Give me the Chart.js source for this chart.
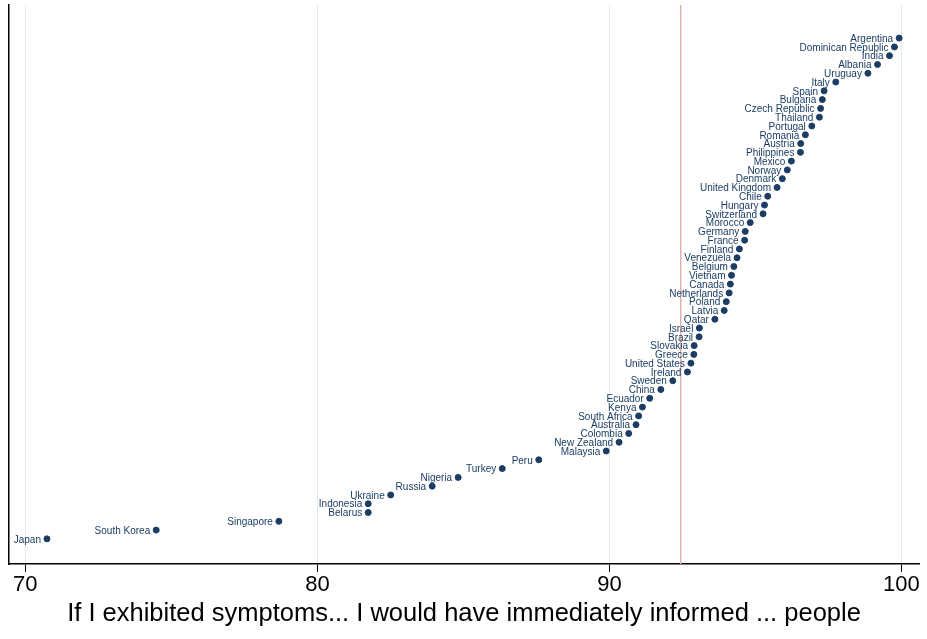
<!DOCTYPE html>
<html>
<head>
<meta charset="utf-8">
<script src="https://cdn.jsdelivr.net/npm/chart.js@4/dist/chart.umd.min.js"></script>
<style>
  body { margin: 0; background: #fff; }
</style>
</head>
<body>
<canvas id="c" width="927" height="639"></canvas>
<script>
const countries = ["Argentina", "Dominican Republic", "India", "Albania", "Uruguay", "Italy", "Spain", "Bulgaria",
  "Czech Republic", "Thailand", "Portugal", "Romania", "Austria", "Philippines", "Mexico", "Norway", "Denmark",
  "United Kingdom", "Chile", "Hungary", "Switzerland", "Morocco", "Germany", "France", "Finland", "Venezuela",
  "Belgium", "Vietnam", "Canada", "Netherlands", "Poland", "Latvia", "Qatar", "Israel", "Brazil", "Slovakia",
  "Greece", "United States", "Ireland", "Sweden", "China", "Ecuador", "Kenya", "South Africa", "Australia",
  "Colombia", "New Zealand", "Malaysia", "Peru", "Turkey", "Nigeria", "Russia", "Ukraine", "Indonesia",
  "Belarus", "Singapore", "South Korea", "Japan"];
const scores = [99.92, 99.76, 99.59, 99.18, 98.85, 97.75, 97.35, 97.29,
  97.23, 97.19, 96.93, 96.71, 96.55, 96.54, 96.23, 96.09, 95.92,
  95.74, 95.42, 95.31, 95.26, 94.82, 94.65, 94.63, 94.45, 94.37,
  94.26, 94.18, 94.14, 94.10, 94.00, 93.93, 93.61, 93.08, 93.07, 92.90,
  92.89, 92.79, 92.67, 92.17, 91.76, 91.38, 91.13, 91.00, 90.91,
  90.66, 90.33, 89.89, 87.58, 86.33, 84.82, 83.93, 82.51, 81.74,
  81.74, 78.68, 74.48, 70.74];
const xTicks = [70, 80, 90, 100];
const refLine = 92.44;
const navy = "#1c3d63";
const fontFam = "'Liberation Sans', Arial, sans-serif";

const labelPlugin = {
  id: "countryLabels",
  beforeDatasetsDraw(chart) {
    const { ctx, chartArea, scales } = chart;
    const x = scales.x.getPixelForValue(refLine);
    ctx.save();
    ctx.strokeStyle = "#ddb0b0";
    ctx.lineWidth = 1.5;
    ctx.beginPath();
    ctx.moveTo(x, chartArea.top);
    ctx.lineTo(x, chartArea.bottom);
    ctx.stroke();
    ctx.restore();
  },
  afterDatasetsDraw(chart) {
    const { ctx } = chart;
    const meta = chart.getDatasetMeta(0);
    ctx.save();
    ctx.fillStyle = navy;
    ctx.font = "10px " + fontFam;
    ctx.textAlign = "right";
    ctx.textBaseline = "middle";
    meta.data.forEach((pt, i) => {
      ctx.fillText(countries[i], pt.x - 6, pt.y + 1);
    });
    ctx.restore();
  }
};

new Chart(document.getElementById("c"), {
  type: "scatter",
  data: {
    datasets: [{
      data: countries.map((c, i) => ({ x: scores[i], y: i + 1 })),
      backgroundColor: navy,
      borderColor: navy,
      pointRadius: 3,
      pointHoverRadius: 3
    }]
  },
  options: {
    responsive: false,
    animation: false,
    layout: { padding: { left: 1, right: 8, top: 5, bottom: 10 } },
    plugins: { legend: { display: false }, tooltip: { enabled: false } },
    scales: {
      x: {
        type: "linear",
        min: 69.44,
        max: 100.6,
        afterBuildTicks: axis => { axis.ticks = xTicks.map(v => ({ value: v })); },
        grid: { color: "#e0ebef", lineWidth: 1, tickColor: "#000", tickLength: 8 },
        border: { color: "#000", width: 1.5 },
        ticks: { color: "#000", font: { family: fontFam, size: 22 }, padding: 0, maxRotation: 0 },
        title: {
          display: true,
          text: "If I exhibited symptoms... I would have immediately informed ... people",
          color: "#000",
          font: { family: fontFam, size: 25.5 },
          padding: { top: 0, bottom: 0 }
        }
      },
      y: {
        type: "linear",
        reverse: true,
        min: -2.77,
        max: 60.86,
        grid: { display: false },
        border: { color: "#000", width: 1.5 },
        ticks: { display: false }
      }
    }
  },
  plugins: [labelPlugin]
});
</script>
</body>
</html>
